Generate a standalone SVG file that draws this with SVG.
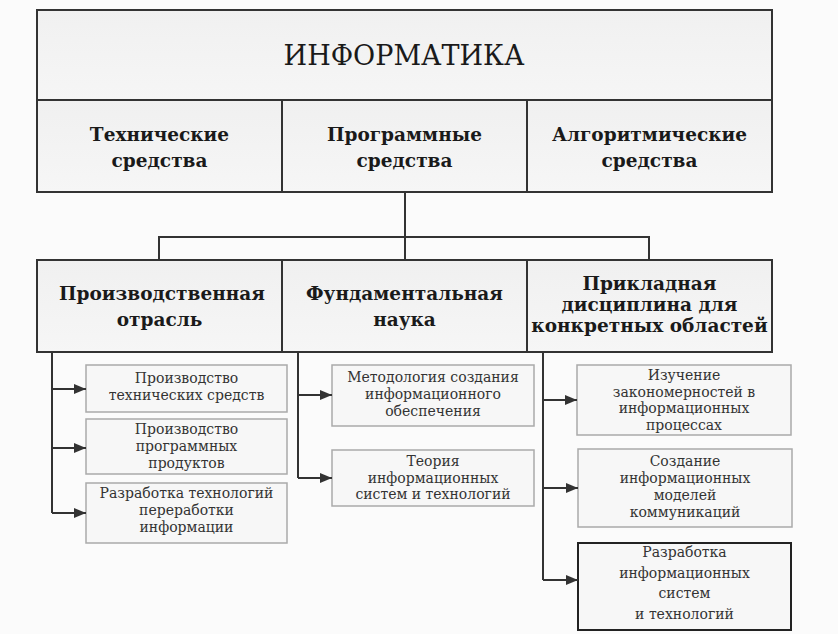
<svg xmlns="http://www.w3.org/2000/svg" width="838" height="634" viewBox="0 0 838 634">
<defs>
<linearGradient id="bg" x1="0" y1="0" x2="0" y2="1"><stop offset="0" stop-color="#f0f0f0"/><stop offset="1" stop-color="#f6f6f6"/></linearGradient>
<marker id="ah" viewBox="0 0 12 10" refX="12" refY="5" markerWidth="12" markerHeight="10" markerUnits="userSpaceOnUse" orient="auto"><path d="M0,0 L12,5 L0,10 Z" fill="#333"/></marker>
</defs>
<style>
.big{fill:url(#bg);stroke:#333;stroke-width:2}
.sm{fill:#f7f7f7;stroke:#aaa;stroke-width:1.5}
.smd{fill:#f7f7f7;stroke:#222;stroke-width:2}
text{font-family:"DejaVu Serif","Liberation Serif",serif;text-anchor:middle}
.title{font-size:27px;fill:#1a1a1a}
.b{font-size:18.5px;font-weight:bold;fill:#1a1a1a}
.t{font-size:14px;fill:#333}
.c{fill:none;stroke:#333;stroke-width:2}
.a{fill:none;stroke:#333;stroke-width:2;marker-end:url(#ah)}
</style>
<rect width="838" height="634" fill="#fbfbfb"/>
<g id="informatika">
<rect class="big" x="37" y="10" width="735" height="90"/>
<text class="title" x="404" y="65">ИНФОРМАТИКА</text>
</g>
<g id="tech">
<rect class="big" x="37" y="100" width="245" height="92"/>
<text class="b" x="159.5" y="141">Технические</text>
<text class="b" x="159.5" y="167">средства</text>
</g>
<g id="prog">
<rect class="big" x="282" y="100" width="245" height="92"/>
<text class="b" x="404.5" y="141">Программные</text>
<text class="b" x="404.5" y="167">средства</text>
</g>
<g id="algo">
<rect class="big" x="527" y="100" width="245" height="92"/>
<text class="b" x="649.5" y="141">Алгоритмические</text>
<text class="b" x="649.5" y="167">средства</text>
</g>
<g id="proizv">
<rect class="big" x="37" y="260" width="245" height="92"/>
<text class="b" x="162" y="300">Производственная</text>
<text class="b" x="159.5" y="326">отрасль</text>
</g>
<g id="fund">
<rect class="big" x="282" y="260" width="245" height="92"/>
<text class="b" x="404.5" y="300">Фундаментальная</text>
<text class="b" x="404.5" y="326">наука</text>
</g>
<g id="prikl">
<rect class="big" x="527" y="260" width="245" height="92"/>
<text class="b" x="649.5" y="290">Прикладная</text>
<text class="b" x="649.5" y="311">дисциплина для</text>
<text class="b" x="649.5" y="332">конкретных областей</text>
</g>
<g id="l1">
<rect class="sm" x="86" y="365" width="201" height="47"/>
<text class="t" x="186.5" y="383">Производство</text>
<text class="t" x="186.5" y="400">технических средств</text>
</g>
<g id="l2">
<rect class="sm" x="86" y="419" width="201" height="55"/>
<text class="t" x="186.5" y="434">Производство</text>
<text class="t" x="186.5" y="451">программных</text>
<text class="t" x="186.5" y="468">продуктов</text>
</g>
<g id="l3">
<rect class="sm" x="86" y="483" width="201" height="60"/>
<text class="t" x="186.5" y="498">Разработка технологий</text>
<text class="t" x="186.5" y="515">переработки</text>
<text class="t" x="186.5" y="532">информации</text>
</g>
<g id="m1">
<rect class="sm" x="332" y="365" width="202" height="61"/>
<text class="t" x="433" y="382">Методология создания</text>
<text class="t" x="433" y="399">информационного</text>
<text class="t" x="433" y="416">обеспечения</text>
</g>
<g id="m2">
<rect class="sm" x="332" y="450" width="202" height="56"/>
<text class="t" x="433" y="466">Теория</text>
<text class="t" x="433" y="482.5">информационных</text>
<text class="t" x="433" y="499">систем и технологий</text>
</g>
<g id="r1">
<rect class="sm" x="577" y="365" width="214" height="70"/>
<text class="t" x="684" y="380">Изучение</text>
<text class="t" x="684" y="396.5">закономерностей в</text>
<text class="t" x="684" y="413">информационных</text>
<text class="t" x="684" y="429.5">процессах</text>
</g>
<g id="r2">
<rect class="sm" x="578" y="449" width="214" height="78"/>
<text class="t" x="685" y="466">Создание</text>
<text class="t" x="685" y="483">информационных</text>
<text class="t" x="685" y="500">моделей</text>
<text class="t" x="685" y="517">коммуникаций</text>
</g>
<g id="r3">
<rect class="smd" x="578" y="543" width="213" height="87"/>
<text class="t" x="684.5" y="557">Разработка</text>
<text class="t" x="684.5" y="578">информационных</text>
<text class="t" x="684.5" y="598">систем</text>
<text class="t" x="684.5" y="619">и технологий</text>
</g>
<g id="connectors">
<path class="c" d="M405,192 V260 M159,260 V237 H649 V260"/>
<path class="c" d="M52,352 V513"/>
<path class="a" d="M52,389 H86"/>
<path class="a" d="M52,448 H86"/>
<path class="a" d="M52,513 H86"/>
<path class="c" d="M298,352 V478"/>
<path class="a" d="M298,395 H332"/>
<path class="a" d="M298,478 H332"/>
<path class="c" d="M543,352 V580"/>
<path class="a" d="M543,400 H577"/>
<path class="a" d="M543,488 H578"/>
<path class="a" d="M543,580 H578"/>
</g>
</svg>
